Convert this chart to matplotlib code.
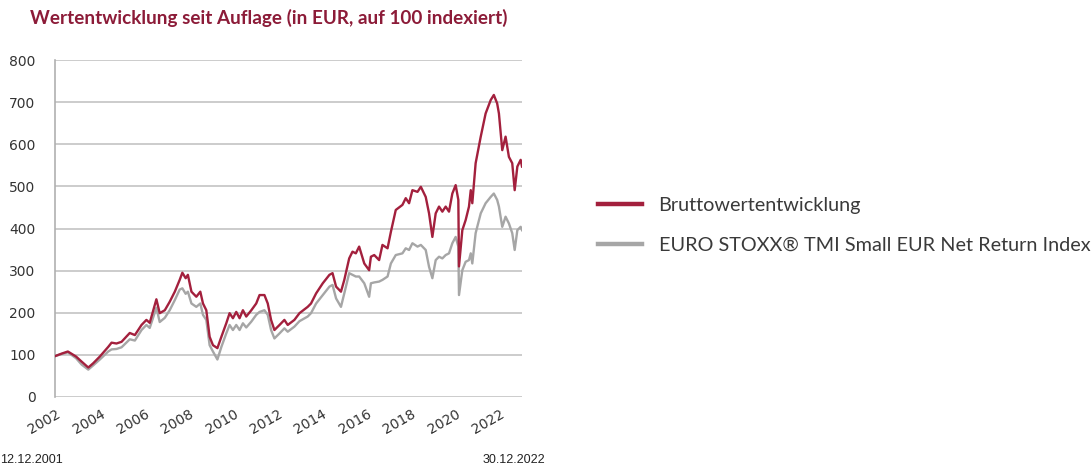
import numpy as np
import matplotlib
matplotlib.use("Agg")
import matplotlib.pyplot as plt

# values (decimal years, index levels)
years = [2001.95, 2002.25, 2002.53, 2002.9, 2003.15, 2003.45, 2003.67, 2003.97,
         2004.35, 2004.5, 2004.72, 2004.95, 2005.32, 2005.55, 2005.85, 2006.07,
         2006.22, 2006.52, 2006.67, 2006.9, 2007.12, 2007.35, 2007.57, 2007.69,
         2007.84, 2007.94, 2008.1, 2008.32, 2008.5, 2008.62, 2008.77, 2008.92,
         2009.07, 2009.27, 2009.45, 2009.67, 2009.82, 2009.97, 2010.12, 2010.27,
         2010.42, 2010.57, 2010.8, 2011.02, 2011.17, 2011.39, 2011.54, 2011.69,
         2011.84, 2012.07, 2012.29, 2012.44, 2012.74, 2012.97, 2013.34, 2013.49,
         2013.72, 2014.02, 2014.32, 2014.46, 2014.62, 2014.84, 2014.99, 2015.21,
         2015.36, 2015.51, 2015.66, 2015.89, 2016.11, 2016.19, 2016.34, 2016.56,
         2016.71, 2016.94, 2017.09, 2017.31, 2017.61, 2017.76, 2017.91, 2018.06,
         2018.29, 2018.44, 2018.66, 2018.81, 2018.96, 2019.11, 2019.26, 2019.41,
         2019.56, 2019.71, 2019.86, 2020.01, 2020.13, 2020.16, 2020.31, 2020.46,
         2020.61, 2020.69, 2020.76, 2020.91, 2021.14, 2021.36, 2021.59, 2021.73,
         2021.88, 2021.96, 2022.11, 2022.26, 2022.41, 2022.56, 2022.67, 2022.79,
         2022.94, 2023.0]

fund = [97, 103, 108, 96, 84, 70, 80, 96,
        119, 129, 127, 131, 152, 147, 171, 183,
        176, 232, 199, 206, 226, 250, 278, 295,
        282, 290, 250, 238, 250, 222, 206, 143,
        123, 116, 143, 175, 199, 187, 202, 187,
        206, 191, 206, 222, 242, 242, 222, 183,
        159, 171, 183, 171, 183, 199, 214, 222,
        246, 270, 290, 294, 262, 250, 278, 329,
        345, 341, 357, 317, 301, 333, 337, 325,
        361, 353, 392, 444, 456, 472, 460, 491,
        487, 499, 475, 436, 380, 436, 452, 440,
        452, 440, 483, 503, 468, 310, 396, 420,
        452, 491, 460, 555, 618, 673, 705, 717,
        697, 673, 586, 618, 570, 555, 491, 547,
        563, 547]

index = [97, 102, 106, 92, 77, 65, 75, 89,
         108, 113, 114, 118, 137, 134, 159, 171,
         164, 212, 178, 188, 206, 230, 255, 258,
         245, 250, 222, 214, 222, 195, 183, 123,
         108, 89, 119, 151, 171, 159, 171, 159,
         175, 165, 179, 195, 202, 206, 195, 159,
         139, 151, 163, 155, 167, 180, 191, 199,
         222, 242, 262, 266, 234, 214, 246, 294,
         290, 286, 286, 270, 238, 270, 272, 274,
         278, 286, 317, 337, 341, 353, 349, 365,
         357, 361, 349, 309, 282, 325, 333, 329,
         337, 341, 365, 380, 357, 242, 301, 321,
         325, 341, 317, 389, 436, 460, 475, 483,
         468, 452, 404, 428, 412, 389, 349, 396,
         404, 396]

tick_years = list(range(2002, 2023, 2))
labels = ["Bruttowertentwicklung", "EURO STOXX® TMI Small EUR Net Return Index"]

red = "#a3203d"
grey = "#a6a6a6"

fig = plt.figure(figsize=(10.91, 4.68), dpi=100)
ax = fig.add_axes([55 / 1091, 1 - 397 / 468, 467 / 1091, 337 / 468])

l2, = ax.plot(years, index, color=grey, lw=1.7, zorder=3)
l1, = ax.plot(years, fund, color=red, lw=1.7, zorder=4)

ax.set_xlim(2001.95, 2023.0)
ax.set_ylim(0, 800)
ax.set_yticks(range(0, 801, 100))
ax.set_xticks(tick_years)
ax.set_xticklabels([str(y) for y in tick_years], rotation=30, ha="right",
                   rotation_mode="anchor")
ax.tick_params(length=0, labelsize=10, colors="#333333")
ax.tick_params(axis="y", pad=14)
ax.tick_params(axis="x", pad=7)
ax.grid(axis="y", color="#c8c8c8", lw=1.3)
ax.set_axisbelow(True)
for s in ["top", "right", "bottom"]:
    ax.spines[s].set_visible(False)
ax.spines["left"].set_color("#b0b0b0")
ax.spines["left"].set_linewidth(1.2)

fig.text(30 / 1091, 1 - 18 / 468, "Wertentwicklung seit Auflage (in EUR, auf 100 indexiert)",
         fontsize=13.6, fontweight="bold", color="#8c1b38", family="Lato", va="center")

fig.text(0, 1 - 460 / 468, "12.12.2001", fontsize=9, family="Liberation Sans",
         color="#222222", va="center")
fig.text(545 / 1091, 1 - 460 / 468, "30.12.2022", fontsize=9, family="Liberation Sans",
         color="#222222", va="center", ha="right")

leg = fig.legend([l1, l2], labels, loc="center left",
                 bbox_to_anchor=(598 / 1091, 1 - 225.5 / 468), frameon=False,
                 prop={"family": "Lato", "size": 14.3}, handlelength=2.2,
                 handletextpad=0.85, labelspacing=1.12, borderpad=0, borderaxespad=0)
for h in leg.legend_handles:
    h.set_linewidth(3.2)
for t in leg.get_texts():
    t.set_color("#3a3a3a")

fig.savefig("out.png", dpi=100)
